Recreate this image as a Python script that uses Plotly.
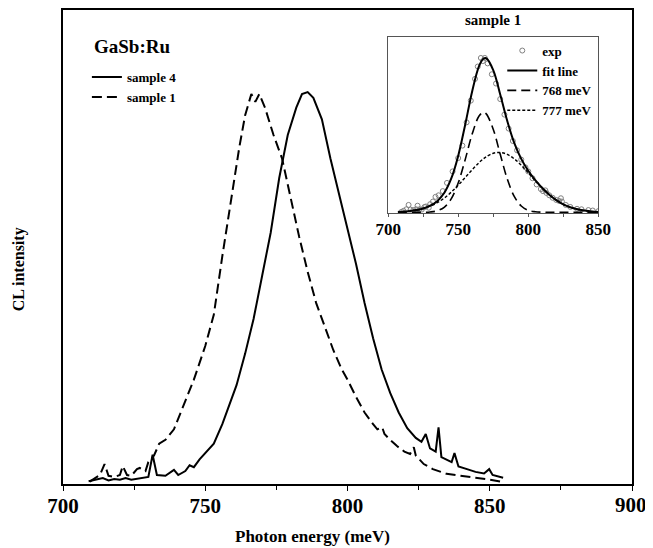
import plotly.graph_objects as go

# ---- main plot data ----
E4 = [709, 712, 714, 716, 718, 720, 722, 724, 726, 728, 730, 731.5, 733, 736, 739, 740.5, 743, 744.5,
      746, 748, 750, 753, 756, 758, 761, 764, 767, 770, 773, 776, 779, 782, 784, 786, 788, 791, 794,
      797, 800, 803, 806, 809, 812, 815, 818, 821, 824, 826, 827.5, 829, 831, 832, 833, 835, 836.6,
      837.6, 839, 842, 845, 848, 849.8, 851, 854.7]
I4 = [0.004, 0.008, 0.012, 0.006, 0.01, 0.008, 0.012, 0.008, 0.01, 0.012, 0.015, 0.072, 0.02, 0.018,
      0.033, 0.02, 0.03, 0.045, 0.04, 0.06, 0.075, 0.10, 0.15, 0.19, 0.25, 0.33, 0.42, 0.53, 0.64,
      0.78, 0.89, 0.96, 0.995, 1.0, 0.985, 0.93, 0.83, 0.74, 0.65, 0.56, 0.46, 0.37, 0.29, 0.23,
      0.18, 0.14, 0.115, 0.105, 0.125, 0.088, 0.08, 0.142, 0.066, 0.058, 0.053, 0.076, 0.042,
      0.035, 0.028, 0.024, 0.035, 0.02, 0.013]

E1 = [709.4, 711, 713, 714.6, 716, 718, 720, 721, 722.5, 724, 726, 727, 729, 730, 732, 733.8, 736,
      739, 742, 746, 750, 753, 756, 759, 762, 764, 766.2, 767.6, 769, 771, 774, 777, 780, 783, 786,
      789, 792, 795, 798, 800, 803, 806, 809, 810.5, 812.2, 813, 815, 817.4, 820, 822, 823.3, 824,
      826.8, 830, 834.8, 838, 842.9, 846, 850, 854]
I1 = [0.003, 0.01, 0.02, 0.048, 0.018, 0.015, 0.02, 0.043, 0.02, 0.018, 0.035, 0.038, 0.03, 0.053,
      0.07, 0.10, 0.11, 0.137, 0.19, 0.264, 0.35, 0.43, 0.58, 0.72, 0.86, 0.94, 0.995, 0.975, 0.995,
      0.96, 0.89, 0.83, 0.73, 0.63, 0.54, 0.46, 0.40, 0.34, 0.29, 0.264, 0.22, 0.18, 0.15, 0.137,
      0.142, 0.125, 0.11, 0.094, 0.08, 0.074, 0.091, 0.07, 0.048, 0.035, 0.023, 0.02, 0.015, 0.012,
      0.008, 0.003]

# ---- inset fit data ----
E_fit = [707, 710, 715, 720, 725, 730, 735, 740, 745, 750, 755, 760, 765, 768, 770, 775, 780, 785,
         790, 795, 800, 805, 810, 815, 820, 825, 830, 835, 840, 845, 850]
FIT = [0.003, 0.004, 0.008, 0.015, 0.025, 0.043, 0.072, 0.125, 0.217, 0.364, 0.565, 0.781, 0.945,
       0.990, 0.993, 0.917, 0.760, 0.590, 0.448, 0.345, 0.268, 0.208, 0.157, 0.114, 0.079, 0.052,
       0.033, 0.020, 0.012, 0.006, 0.003]
P768 = [0.0, 0.0, 0.0, 0.0001, 0.0006, 0.0027, 0.0104, 0.033, 0.087, 0.189, 0.340, 0.506, 0.623,
        0.645, 0.635, 0.536, 0.374, 0.216, 0.103, 0.041, 0.013, 0.004, 0.001, 0.0, 0.0, 0.0, 0.0,
        0.0, 0.0, 0.0, 0.0]
P777 = [0.003, 0.004, 0.008, 0.014, 0.025, 0.040, 0.062, 0.092, 0.130, 0.175, 0.225, 0.275, 0.322,
        0.345, 0.358, 0.381, 0.386, 0.374, 0.345, 0.304, 0.255, 0.204, 0.156, 0.114, 0.079, 0.052,
        0.033, 0.020, 0.012, 0.006, 0.003]

# ---- tick labels ----
MAIN_TICKS = [700, 750, 800, 850, 900]
MAIN_TICKTEXT = ["700", "750", "800", "850", ""]
MAIN_MINOR = [725, 775, 825, 875]
INSET_TICKS = [700, 750, 800, 850]
INSET_MINOR = [725, 775, 825]

FONT = "Liberation Serif"

fig = go.Figure()
fig.add_trace(go.Scatter(x=E4, y=I4, mode="lines", name="sample 4",
                         line=dict(color="black", width=2), legend="legend"))
fig.add_trace(go.Scatter(x=E1, y=I1, mode="lines", name="sample 1",
                         line=dict(color="black", width=2, dash="10px,5px"), legend="legend"))

fig.add_trace(go.Scatter(x=E1, y=I1, mode="markers", name="exp", xaxis="x2", yaxis="y2",
                         marker=dict(symbol="circle-open", size=5, color="#808080",
                                     line=dict(width=1, color="#808080")),
                         legend="legend2"))
fig.add_trace(go.Scatter(x=E_fit, y=FIT, mode="lines", name="fit line", xaxis="x2", yaxis="y2",
                         line=dict(color="black", width=2, shape="spline"), legend="legend2"))
fig.add_trace(go.Scatter(x=E_fit, y=P768, mode="lines", name="768 meV", xaxis="x2", yaxis="y2",
                         line=dict(color="black", width=1.6, dash="9px,5px", shape="spline"),
                         legend="legend2"))
fig.add_trace(go.Scatter(x=E_fit, y=P777, mode="lines", name="777 meV", xaxis="x2", yaxis="y2",
                         line=dict(color="black", width=1.4, dash="3px,2px", shape="spline"),
                         legend="legend2"))

fig.update_layout(
    width=637, height=540,
    margin=dict(l=55, r=8, t=0, b=64),
    paper_bgcolor="white", plot_bgcolor="white",
    font=dict(family=FONT, color="black"),
    xaxis=dict(range=[700, 900], tickmode="array", tickvals=MAIN_TICKS, ticktext=MAIN_TICKTEXT,
               showgrid=False, zeroline=False,
               showline=True, mirror=True, linecolor="black", linewidth=2,
               ticks="outside", ticklen=5, tickwidth=1, tickcolor="black",
               minor=dict(tickmode="array", tickvals=MAIN_MINOR, ticks="outside", ticklen=4,
                          tickcolor="black"),
               ticklabelstandoff=-3,
               tickfont=dict(family=FONT, size=21, weight="bold")),
    yaxis=dict(range=[-0.003, 1.21], showgrid=False, zeroline=False, showticklabels=False,
               showline=True, mirror=True, linecolor="black", linewidth=2, ticks=""),
    xaxis2=dict(domain=[0.5714, 0.9408], anchor="y2", range=[700, 850], tickmode="array",
                tickvals=INSET_TICKS,
                showgrid=False, zeroline=False, showline=True, mirror=True,
                linecolor="#555555", linewidth=1, ticks="outside", ticklen=3, tickcolor="#555555",
                minor=dict(tickmode="array", tickvals=INSET_MINOR, ticks="outside", ticklen=3,
                           tickcolor="#555555"),
                ticklabelstandoff=-3,
                tickfont=dict(family=FONT, size=17, weight="bold")),
    yaxis2=dict(domain=[0.5714, 0.943], anchor="x2", range=[-0.005, 1.13], showgrid=False,
                zeroline=False, showticklabels=False, showline=True, mirror=True,
                linecolor="#555555", linewidth=1, ticks=""),
    legend=dict(x=0.042, y=0.89, xanchor="left", yanchor="top", bgcolor="rgba(0,0,0,0)",
                font=dict(family=FONT, size=13, weight="bold"), itemwidth=30),
    legend2=dict(x=0.772, y=0.946, xanchor="left", yanchor="top", bgcolor="rgba(0,0,0,0)",
                 font=dict(family=FONT, size=13, weight="bold"), itemwidth=30),
    annotations=[
        dict(text="GaSb:Ru", xref="paper", yref="paper", x=0.122, y=0.922, showarrow=False,
             xanchor="center", yanchor="middle",
             font=dict(family=FONT, size=19, weight="bold")),
        dict(text="sample 1", xref="paper", yref="paper", x=0.756, y=0.979, showarrow=False,
             xanchor="center", yanchor="middle",
             font=dict(family=FONT, size=15, weight="bold")),
        dict(text="900", xref="paper", yref="paper", x=1.03, y=-0.044, showarrow=False,
             xanchor="right", yanchor="middle",
             font=dict(family=FONT, size=21, weight="bold")),
        dict(text="Photon energy (meV)", xref="paper", yref="paper", x=0.439, y=-0.111,
             showarrow=False, xanchor="center", yanchor="middle",
             font=dict(family=FONT, size=17, weight="bold")),
        dict(text="CL intensity", xref="paper", yref="paper", x=-0.078, y=0.452, textangle=-90,
             showarrow=False, xanchor="center", yanchor="middle",
             font=dict(family=FONT, size=16, weight="bold")),
    ],
)

fig.write_html("out.html")
